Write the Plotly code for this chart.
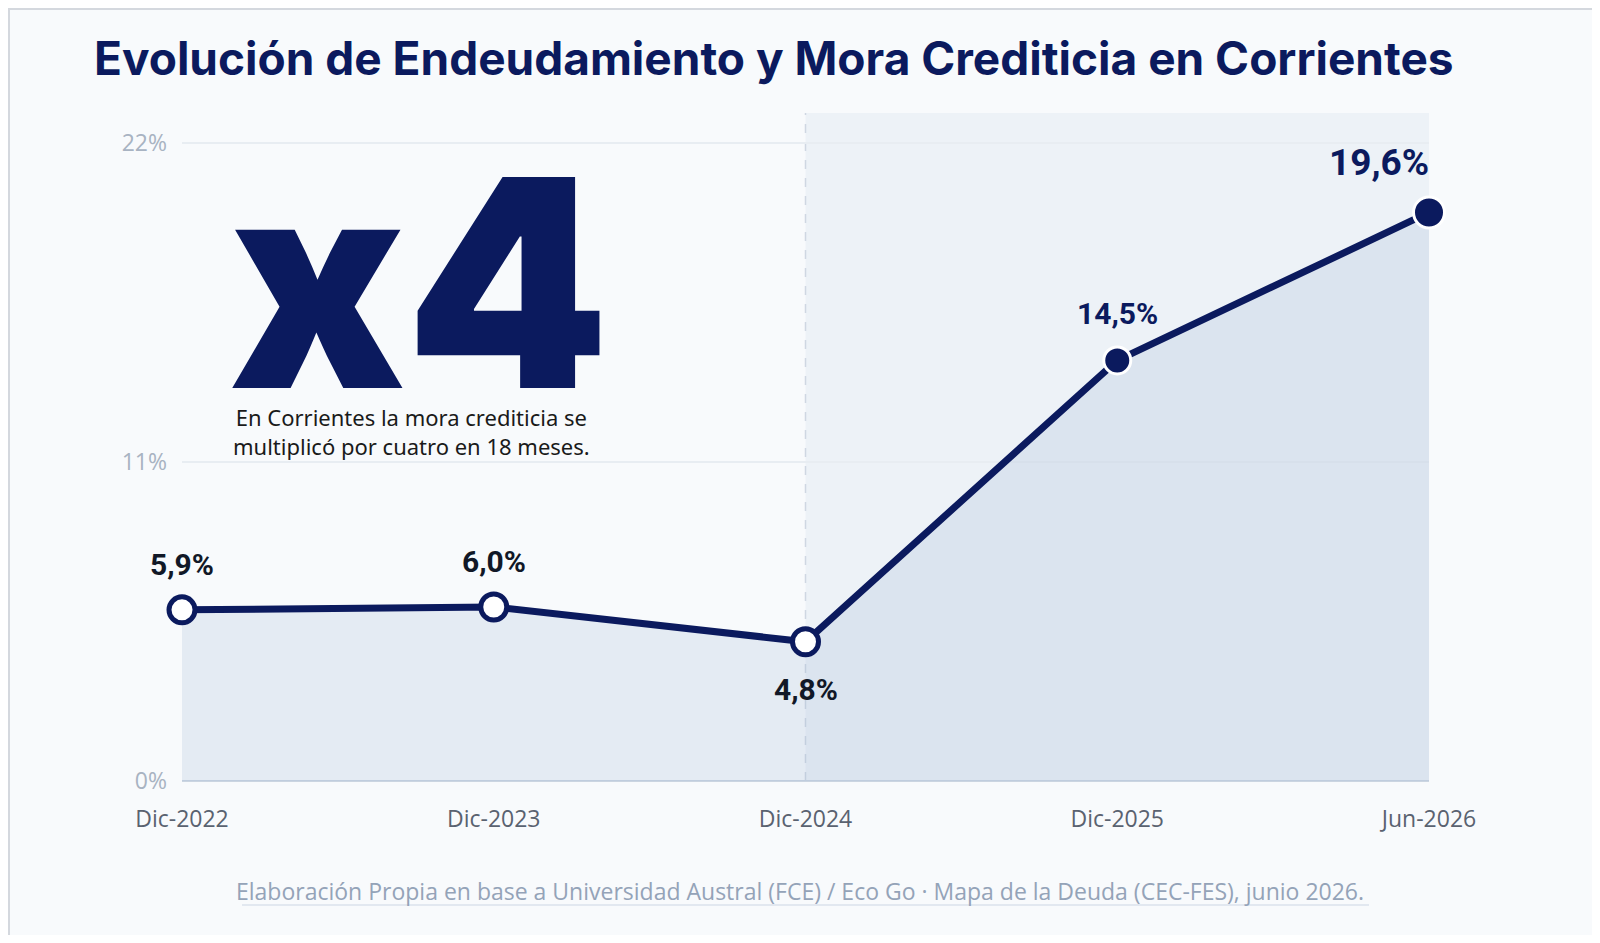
import plotly.graph_objects as go

# datos
periodos = ["Dic-2022", "Dic-2023", "Dic-2024", "Dic-2025", "Jun-2026"]
mora = [5.9, 6.0, 4.8, 14.5, 19.6]
etiquetas = ["5,9%", "6,0%", "4,8%", "14,5%", "19,6%"]
ticks_y = [0, 11, 22]
ticks_y_txt = ["0%", "11%", "22%"]

NAVY = "#0b1a5e"
BG = "#f8fafc"

# page body has an 8px margin, so the figure is a bit smaller than the window
OFF = 8
W, H = 1600 - 2 * OFF, 943 - 2 * OFF
# plot area in figure pixels
L, R, T, B = 182 - OFF, 1429 - OFF, 113 - OFF, 781 - OFF


def px(xs_):
    return (xs_ - OFF - L) / (R - L)


def py(ys_):
    return (B - (ys_ - OFF)) / (B - T)


xs = list(range(len(periodos)))

fig = go.Figure()

# area + line
fig.add_trace(go.Scatter(
    x=xs, y=mora, mode="lines",
    line=dict(color=NAVY, width=7),
    fill="tozeroy", fillcolor="rgba(150,175,210,0.2)",
    hoverinfo="skip", showlegend=False,
))

# markers: first three hollow, last two filled
fig.add_trace(go.Scatter(
    x=xs, y=mora, mode="markers", cliponaxis=False,
    marker=dict(
        size=[26, 26, 26, 27, 31], opacity=1,
        color=["white", "white", "white", NAVY, NAVY],
        line=dict(color=[NAVY, NAVY, NAVY, "white", "white"], width=[5, 5, 5, 3, 3]),
    ),
    showlegend=False,
))

# value labels
shifts = [45, 45, -48, 47, 50]
sizes = [30, 30, 30, 30, 37]
colors = ["#111827", "#111827", "#111827", NAVY, NAVY]
for i, (v, t) in enumerate(zip(mora, etiquetas)):
    a = dict(x=xs[i], y=v, xref="x", yref="y", text="<b>%s</b>" % t, showarrow=False,
             yshift=shifts[i], yanchor="middle",
             font=dict(family="Roboto", size=sizes[i], color=colors[i]))
    if i == len(mora) - 1:
        a.update(xanchor="right", xshift=2)
    fig.add_annotation(**a)

# big x4 callout
fig.add_annotation(x=0.76, y=17.2, xref="x", yref="y", text="x4", showarrow=False,
                   font=dict(family="Inter", size=290, color=NAVY, weight=900))
fig.add_annotation(x=0.736, y=12.05, xref="x", yref="y", showarrow=False,
                   text="En Corrientes la mora crediticia se<br>multiplicó por cuatro en 18 meses.",
                   font=dict(family="Noto Sans", size=22, color="#1a1a1a"))

# footer
fig.add_annotation(x=px(800), y=py(891), xref="paper", yref="paper", showarrow=False,
                   yanchor="middle",
                   text="Elaboración Propia en base a Universidad Austral (FCE) / Eco Go · Mapa de la Deuda (CEC-FES), junio 2026.",
                   font=dict(family="Open Sans", size=23, color="#94a3b8"))
fig.add_shape(type="line", xref="paper", yref="paper", x0=px(242), x1=px(1369),
              y0=py(905), y1=py(905), line=dict(color="#e2e8f0", width=2))

# projected zone shading + divider
fig.add_shape(type="rect", xref="x", yref="paper", x0=2, x1=4, y0=0, y1=1,
              fillcolor="#edf2f7", line_width=0, layer="below")
fig.add_shape(type="line", xref="x", yref="paper", x0=2, x1=2, y0=0, y1=1,
              line=dict(color="#cfd7e2", width=1.5, dash="dash"), layer="below")

# outer frame
fig.add_shape(type="rect", xref="paper", yref="paper",
              x0=px(OFF + 1), x1=px(1597), y0=py(939), y1=py(OFF + 1),
              line=dict(color="#d4d8de", width=2), fillcolor="rgba(0,0,0,0)")

fig.update_layout(
    width=W, height=H,
    margin=dict(l=L, r=W - R, t=T, b=H - B),
    paper_bgcolor=BG, plot_bgcolor="rgba(0,0,0,0)",
    title=dict(text="<b>Evolución de Endeudamiento y Mora Crediticia en Corrientes</b>",
               x=(94 - OFF) / W, xanchor="left", y=1 - (59 - OFF) / H, yanchor="middle",
               yref="container",
               font=dict(family="Inter", size=46, color=NAVY, weight=900)),
    xaxis=dict(range=[0, 4], tickvals=xs, ticktext=periodos, showgrid=False,
               zeroline=False, showline=False, ticklabelstandoff=22,
               tickfont=dict(family="Open Sans", size=23, color="#5a6270")),
    yaxis=dict(range=[0, 23.03], tickvals=ticks_y, ticktext=ticks_y_txt,
               showgrid=True, gridcolor="#e8edf2", gridwidth=2,
               zeroline=True, zerolinecolor="#cbd5e1", zerolinewidth=2,
               ticklabelstandoff=14,
               tickfont=dict(family="Open Sans", size=23, color="#a8b3c2")),
    showlegend=False,
)

fig.write_html("out.html")
